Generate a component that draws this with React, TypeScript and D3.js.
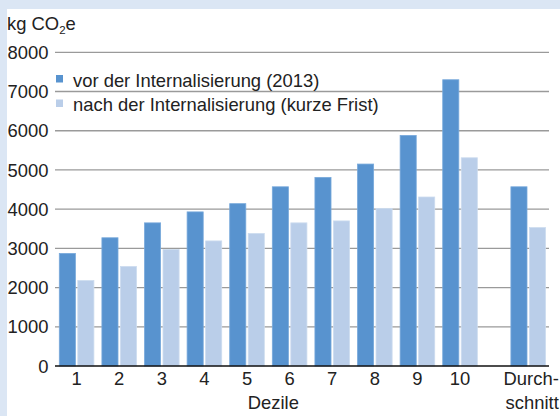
import React from "react";
import * as d3 from "d3";

const categories = ["1", "2", "3", "4", "5", "6", "7", "8", "9", "10", "Durchschnitt"];
const seriesNames = ["vor der Internalisierung (2013)", "nach der Internalisierung (kurze Frist)"];
const vorValues = [2870, 3270, 3650, 3930, 4140, 4570, 4810, 5150, 5880, 7300, 4570];
const nachValues = [2180, 2540, 2970, 3190, 3380, 3650, 3700, 4020, 4310, 5310, 3530];
const yTicks = [0, 1000, 2000, 3000, 4000, 5000, 6000, 7000, 8000];
const colors = ["#5893cf", "#bacee9"];

const W = 560;
const H = 416;
const FONT = "'Liberation Sans', Arial, Helvetica, sans-serif";
const FS = 18.4;

export default function App() {
  const y = d3.scaleLinear().domain([0, 8000]).range([366, 52.3]);
  // slot positions: deciles 0..9, gap, average at 10.6
  const slotOf = (i: number) => (i < 10 ? i : 10.6);
  const x = d3.scaleLinear().domain([0, 11.6]).range([55.3, 549.5]);
  const inner = d3.scaleBand<number>().domain([0, 1]).paddingInner(0.13);
  const series = [vorValues, nachValues];

  return (
    <svg width={W} height={H} style={{ position: "absolute", left: 0, top: 0, display: "block" }} fontFamily={FONT}>
      <rect x={0} y={0} width={W} height={H} fill="#dbe6f4" />
      <rect x={7} y={9} width={W - 7} height={H - 9} fill="#ffffff" />
      <text x={7} y={30} fontSize={FS} fill="#222">
        kg CO<tspan fontSize={11.5} dy={4}>2</tspan><tspan dy={-4}>e</tspan>
      </text>
      {yTicks.map((t) => (
        <g key={t}>
          {t > 0 && (
            <line x1={55} x2={549} y1={y(t)} y2={y(t)} stroke="#9a9a9a" strokeWidth={1.3} />
          )}
          <text x={48.5} y={y(t)} dy="0.36em" textAnchor="end" fontSize={FS} fill="#222">
            {t}
          </text>
        </g>
      ))}
      {categories.map((c, i) => {
        const s = slotOf(i);
        const x0 = x(s) + 4;
        const x1 = x(s + 1) - 4;
        inner.range([x0, x1]);
        return (
          <g key={c}>
            {series.map((vals, k) => (
              <rect
                key={k}
                x={inner(k)!}
                y={y(vals[i])}
                width={inner.bandwidth()}
                height={y(0) - y(vals[i])}
                fill={colors[k]}
                stroke={k === 0 ? "#78a9db" : "#cddcef"}
                strokeWidth={0.8}
              />
            ))}
          </g>
        );
      })}
      <line x1={55} x2={549} y1={366} y2={366} stroke="#111" strokeWidth={1.5} />
      {categories.map((c, i) => {
        const s = slotOf(i);
        const cx = (x(s) + x(s + 1)) / 2;
        if (i < 10) {
          return (
            <text key={c} x={cx} y={385} textAnchor="middle" fontSize={FS} fill="#222">
              {c}
            </text>
          );
        }
        return (
          <text key={c} x={cx + 2} y={385} textAnchor="middle" fontSize={FS} fill="#222">
            <tspan x={cx + 3}>Durch-</tspan>
            <tspan x={cx + 4} dy={24}>schnitt</tspan>
          </text>
        );
      })}
      <text x={(x(0) + x(10)) / 2 + 5} y={409} textAnchor="middle" fontSize={FS} fill="#222">
        Dezile
      </text>
      {seriesNames.map((n, k) => (
        <g key={n}>
          <rect x={56} y={75 + k * 24.5} width={7} height={7.5} fill={colors[k]} />
          <text x={73} y={86.5 + k * 24.5} fontSize={FS} fill="#222">
            {n}
          </text>
        </g>
      ))}
    </svg>
  );
}
